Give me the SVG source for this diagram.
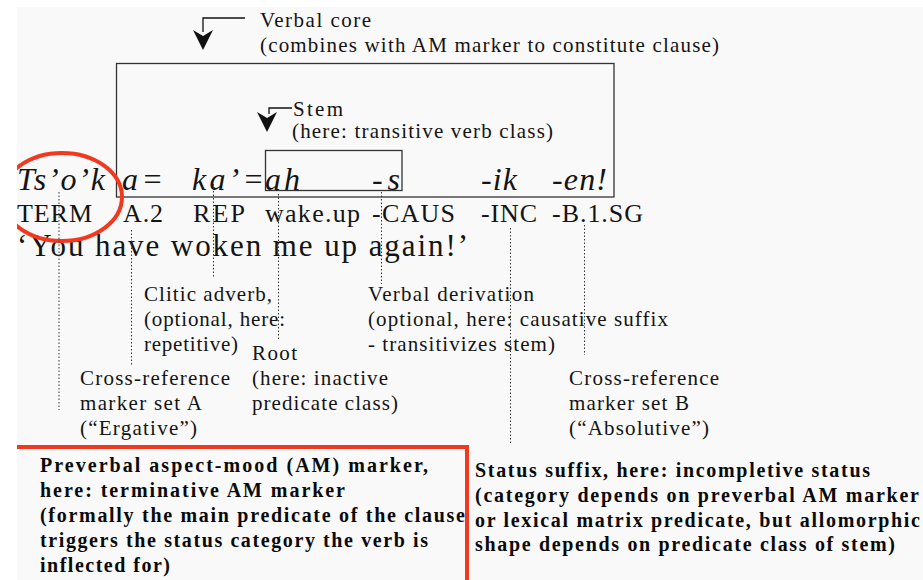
<svg xmlns="http://www.w3.org/2000/svg" width="923" height="580" viewBox="0 0 923 580">
<style>
.t{font-family:"Liberation Serif","Times New Roman",serif;font-size:21px;fill:#141414}
.it{font-family:"Liberation Serif","Times New Roman",serif;font-size:32px;font-style:italic;fill:#141414}
.gl{font-family:"Liberation Serif","Times New Roman",serif;font-size:26px;fill:#141414}
.tr{font-family:"Liberation Serif","Times New Roman",serif;font-size:31px;fill:#141414}
.b{font-family:"Liberation Serif","Times New Roman",serif;font-size:20px;font-weight:bold;fill:#0a0a0a}
.box{fill:none;stroke:#333;stroke-width:1.3}
.dot{stroke:#333;stroke-width:1;stroke-dasharray:1.5 2;fill:none}
.red{fill:none;stroke:#f2381f;stroke-width:4}
.arr{fill:none;stroke:#111;stroke-width:1.3}
</style>
<defs>
<clipPath id="panel"><rect x="17" y="7" width="906" height="573"/></clipPath>
</defs>
<rect x="0" y="0" width="923" height="580" fill="#ffffff"/>
<rect x="17" y="7" width="906" height="573" fill="#f9f9f9"/>

<g id="verbal-core">
<path class="arr" d="M245,18 H203 V32"/>
<polygon points="193,30 203,36 213,30 203,50" fill="#111"/>
<text class="t" x="260" y="27" textLength="111" lengthAdjust="spacing">Verbal core</text>
<text class="t" x="260" y="52" textLength="459" lengthAdjust="spacing">(combines with AM marker to constitute clause)</text>
<rect class="box" x="116.5" y="63.5" width="497.5" height="133.5"/>
</g>

<g id="stem">
<path class="arr" d="M292,108 H269 V114"/>
<polygon points="257,112 267,118 277,112 267,132" fill="#111"/>
<text class="t" x="293" y="116" textLength="50" lengthAdjust="spacing">Stem</text>
<text class="t" x="292" y="138" textLength="261" lengthAdjust="spacing">(here: transitive verb class)</text>
<rect class="box" x="265.5" y="150.5" width="136.5" height="40"/>
</g>

<g id="morphemes">
<text class="it" x="17" y="190" textLength="88" lengthAdjust="spacing">Ts’o’k</text>
<text class="it" x="122" y="190" textLength="41" lengthAdjust="spacing">a=</text>
<text class="it" x="192" y="190" textLength="72" lengthAdjust="spacing">ka’=</text>
<text class="it" x="265" y="190" textLength="35" lengthAdjust="spacing">ah</text>
<text class="it" x="372" y="190" textLength="28" lengthAdjust="spacing">-s</text>
<text class="it" x="481" y="190" textLength="36" lengthAdjust="spacing">-ik</text>
<text class="it" x="552" y="190" textLength="55" lengthAdjust="spacing">-en!</text>
</g>

<g id="gloss">
<text class="gl" x="17" y="222" textLength="75" lengthAdjust="spacing">TERM</text>
<text class="gl" x="123" y="222" textLength="40" lengthAdjust="spacing">A.2</text>
<text class="gl" x="193" y="222" textLength="52" lengthAdjust="spacing">REP</text>
<text class="gl" x="265" y="222" textLength="95" lengthAdjust="spacing">wake.up</text>
<text class="gl" x="372" y="222" textLength="83" lengthAdjust="spacing">-CAUS</text>
<text class="gl" x="481" y="222" textLength="56" lengthAdjust="spacing">-INC</text>
<text class="gl" x="552" y="222" textLength="91" lengthAdjust="spacing">-B.1.SG</text>
</g>

<g id="translation">
<text class="tr" x="17" y="256" textLength="451" lengthAdjust="spacing">‘You have woken me up again!’</text>
</g>

<g id="term-highlight" clip-path="url(#panel)">
<ellipse class="red" cx="62" cy="197" rx="60" ry="44"/>
</g>

<g id="connectors">
<line class="dot" x1="59" y1="192" x2="59" y2="410"/>
<line class="dot" x1="131.5" y1="230" x2="131.5" y2="365"/>
<line class="dot" x1="213.5" y1="184" x2="213.5" y2="277"/>
<line class="dot" x1="278.5" y1="194" x2="278.5" y2="340"/>
<line class="dot" x1="381.5" y1="192" x2="381.5" y2="284"/>
<line class="dot" x1="510.5" y1="228" x2="510.5" y2="443"/>
<line class="dot" x1="584.5" y1="225" x2="584.5" y2="355"/>
</g>

<g id="clitic-adverb">
<text class="t" x="144" y="301" textLength="128" lengthAdjust="spacing">Clitic adverb,</text>
<text class="t" x="144" y="326" textLength="141" lengthAdjust="spacing">(optional, here:</text>
<text class="t" x="144" y="351" textLength="94" lengthAdjust="spacing">repetitive)</text>
</g>

<g id="root">
<text class="t" x="252" y="360" textLength="45" lengthAdjust="spacing">Root</text>
<text class="t" x="252" y="385" textLength="136" lengthAdjust="spacing">(here: inactive</text>
<text class="t" x="252" y="410" textLength="146" lengthAdjust="spacing">predicate class)</text>
</g>

<g id="set-a">
<text class="t" x="80" y="385" textLength="150" lengthAdjust="spacing">Cross-reference</text>
<text class="t" x="80" y="410" textLength="122" lengthAdjust="spacing">marker set A</text>
<text class="t" x="80" y="435" textLength="117" lengthAdjust="spacing">(“Ergative”)</text>
</g>

<g id="verbal-derivation">
<text class="t" x="368" y="301" textLength="166" lengthAdjust="spacing">Verbal derivation</text>
<text class="t" x="368" y="326" textLength="300" lengthAdjust="spacing">(optional, here: causative suffix</text>
<text class="t" x="368" y="351" textLength="187" lengthAdjust="spacing">- transitivizes stem)</text>
</g>

<g id="set-b">
<text class="t" x="569" y="385" textLength="150" lengthAdjust="spacing">Cross-reference</text>
<text class="t" x="569" y="410" textLength="120" lengthAdjust="spacing">marker set B</text>
<text class="t" x="569" y="435" textLength="140" lengthAdjust="spacing">(“Absolutive”)</text>
</g>

<g id="am-marker">
<path class="red" d="M17,447 H467 V580" stroke-width="3.5"/>
<text class="b" x="40" y="472" textLength="388" lengthAdjust="spacing">Preverbal aspect-mood (AM) marker,</text>
<text class="b" x="40" y="497" textLength="305" lengthAdjust="spacing">here: terminative AM marker</text>
<text class="b" x="40" y="522" textLength="425" lengthAdjust="spacing">(formally the main predicate of the clause</text>
<text class="b" x="40" y="547" textLength="388" lengthAdjust="spacing">triggers the status category the verb is</text>
<text class="b" x="40" y="572" textLength="130" lengthAdjust="spacing">inflected for)</text>
</g>

<g id="status-suffix">
<text class="b" x="475" y="477" textLength="395" lengthAdjust="spacing">Status suffix, here: incompletive status</text>
<text class="b" x="475" y="502" textLength="444" lengthAdjust="spacing">(category depends on preverbal AM marker</text>
<text class="b" x="475" y="527" textLength="445" lengthAdjust="spacing">or lexical matrix predicate, but allomorphic</text>
<text class="b" x="475" y="551" textLength="420" lengthAdjust="spacing">shape depends on predicate class of stem)</text>
</g>
</svg>
